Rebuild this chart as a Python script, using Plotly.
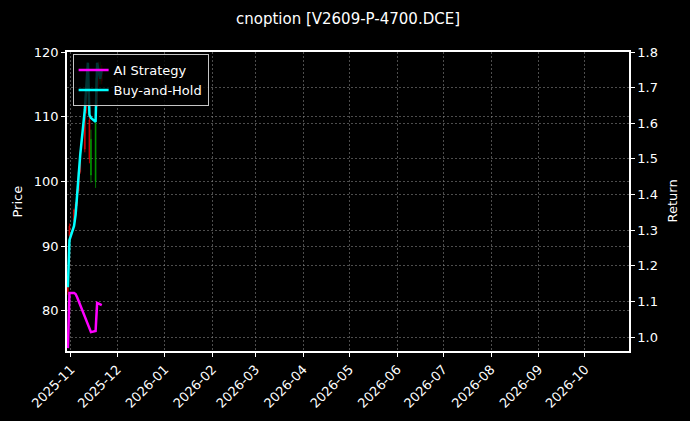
import plotly.graph_objects as go

# price candles (daily)
candle_dates = ["2025-10-30", "2025-10-31", "2025-11-03", "2025-11-04", "2025-11-05",
                "2025-11-06", "2025-11-07", "2025-11-10", "2025-11-11", "2025-11-12",
                "2025-11-13", "2025-11-14", "2025-11-17", "2025-11-18", "2025-11-19",
                "2025-11-20", "2025-11-21"]
open_px = [83.0, 91.6, 94.0, 95.5, 96.5, 98.5, 101.5, 105.0, 111.0, 114.0,
           103.5, 106.5, 109.0, 112.0, 115.0, 116.0, 115.5]
high_px = [84.5, 93.5, 95.8, 96.8, 98.8, 101.8, 104.8, 111.3, 117.0, 118.0,
           112.0, 108.0, 116.0, 118.0, 118.5, 118.5, 118.0]
low_px = [82.5, 91.4, 93.8, 95.2, 96.2, 98.2, 101.2, 104.5, 110.5, 113.5,
          102.8, 99.8, 99.0, 111.5, 114.5, 115.0, 115.0]
close_px = [84.0, 93.1, 95.6, 96.5, 98.5, 101.5, 104.5, 111.0, 115.0, 117.0,
            109.5, 101.0, 100.0, 117.0, 116.0, 115.5, 117.0]

# cumulative returns
line_dates = candle_dates
ai_strategy = [0.969, 1.124, 1.124, 1.121, 1.112, 1.101, 1.090, 1.056, 1.045, 1.034,
               1.020, 1.014, 1.017, 1.096, 1.094, 1.093, 1.090]
buy_hold = [1.140, 1.272, 1.312, 1.343, 1.399, 1.455, 1.511, 1.638, 1.708, 1.770,
            1.624, 1.615, 1.604, 1.770, 1.745, 1.725, 1.750]

font = "DejaVu Sans"
grid = "rgba(140,140,140,0.55)"
gdash = "2px,2px"

fig = go.Figure()

fig.add_trace(go.Candlestick(
    x=candle_dates, open=open_px, high=high_px, low=low_px, close=close_px,
    increasing=dict(line=dict(color="rgba(230,0,0,0.8)", width=1),
                    fillcolor="rgba(230,0,0,0.8)"),
    decreasing=dict(line=dict(color="rgba(0,170,0,0.7)", width=1),
                    fillcolor="rgba(0,170,0,0.7)"),
    showlegend=False, hoverinfo="skip", yaxis="y"
))

fig.add_trace(go.Scatter(
    x=line_dates, y=ai_strategy, mode="lines", name="AI Strategy",
    line=dict(color="#ff00ff", width=2.5), yaxis="y2"
))
fig.add_trace(go.Scatter(
    x=line_dates, y=buy_hold, mode="lines", name="Buy-and-Hold",
    line=dict(color="#00ffff", width=2.5), yaxis="y2"
))

fig.update_layout(
    width=690, height=421,
    paper_bgcolor="black", plot_bgcolor="black",
    margin=dict(l=67, r=61, t=52, b=70, autoexpand=False),
    font=dict(family=font, size=13, color="white"),
    title=dict(text="cnoption [V2609-P-4700.DCE]", x=0.5, xanchor="center",
               xref="paper", y=0.955, yref="container", yanchor="middle",
               font=dict(size=15, color="white")),
    xaxis=dict(
        type="date", range=["2025-10-29 10:00", "2026-10-29 16:00"],
        tick0="2025-11-01", dtick="M1", tickformat="%Y-%m", tickangle=-45,
        showgrid=True, gridcolor=grid, griddash=gdash, gridwidth=0.7,
        showline=True, linecolor="white", linewidth=1.5, mirror=True,
        ticks="outside", ticklen=4, tickcolor="white",
        rangeslider=dict(visible=False), zeroline=False, automargin=False,
        tickfont=dict(size=13),
    ),
    yaxis=dict(
        range=[73.8, 120], dtick=10,
        showgrid=True, gridcolor=grid, griddash=gdash, gridwidth=0.7,
        showline=True, linecolor="white", linewidth=1.5,
        ticks="outside", ticklen=4, tickcolor="white", zeroline=False,
        automargin=False, tickfont=dict(size=13),
    ),
    yaxis2=dict(
        range=[0.961, 1.8], dtick=0.1,
        tickformat=".1f", overlaying="y", side="right",
        showgrid=True, gridcolor=grid, griddash=gdash, gridwidth=0.7,
        showline=True, linecolor="white", linewidth=1.5,
        ticks="outside", ticklen=4, tickcolor="white", zeroline=False,
        automargin=False, tickfont=dict(size=13),
    ),
    legend=dict(
        x=0.01, y=0.993, xanchor="left", yanchor="top",
        bgcolor="rgba(0,0,0,0.8)", bordercolor="rgba(220,220,220,0.9)",
        borderwidth=1, font=dict(size=13, color="white"),
        itemwidth=30, tracegroupgap=0,
    ),
    hovermode=False,
)

# axis titles placed by hand
fig.add_annotation(text="Price", xref="paper", yref="paper", x=0, y=0.5,
                   xanchor="center", yanchor="middle", xshift=-50, textangle=-90,
                   showarrow=False, font=dict(size=13, color="white"))
fig.add_annotation(text="Return", xref="paper", yref="paper", x=1, y=0.5,
                   xanchor="center", yanchor="middle", xshift=43, textangle=-90,
                   showarrow=False, font=dict(size=13, color="white"))

fig.write_html("out.html", config={"displayModeBar": False},
               post_script="document.body.style.margin='0';")
